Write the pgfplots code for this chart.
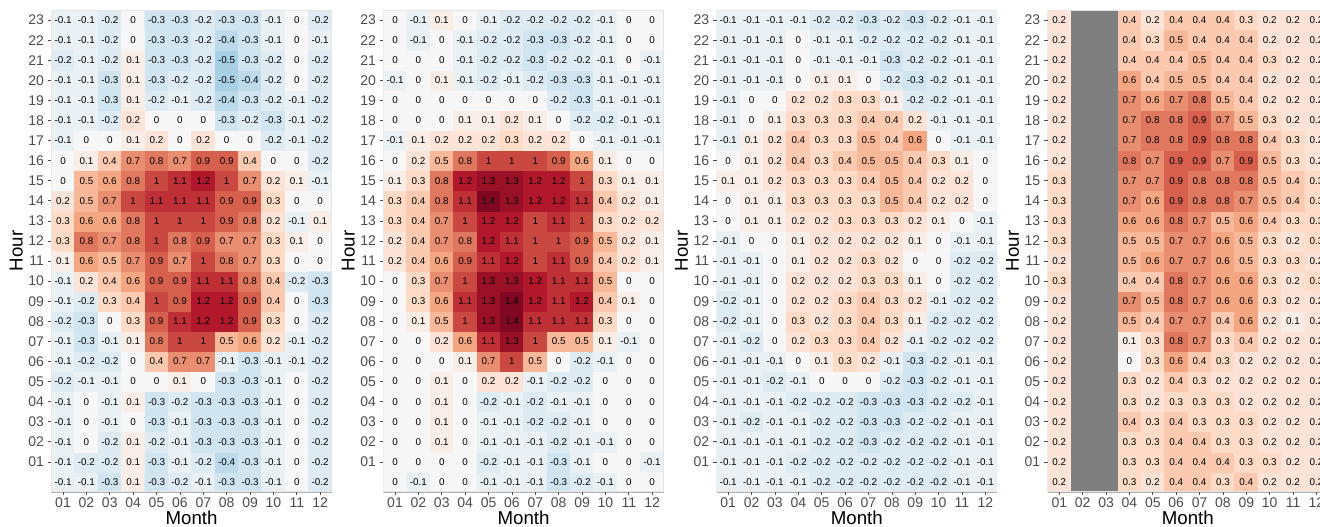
\documentclass[border=0pt]{standalone}
\usepackage{pgfplots}
\pgfplotsset{compat=1.18}
\usepackage{pgfplotstable}
\usepackage{fontspec}
\setmainfont{Liberation Sans}
\definecolor{tickgray}{RGB}{77,77,77}
\definecolor{nagray}{RGB}{127,127,127}
\pgfplotsset{colormap={rdbu}{rgb255=(5,48,97) rgb255=(33,102,172) rgb255=(67,147,195) rgb255=(146,197,222) rgb255=(209,229,240) rgb255=(247,247,247) rgb255=(253,219,199) rgb255=(244,165,130) rgb255=(214,96,77) rgb255=(178,24,43) rgb255=(103,0,31)}}

% rows: hour 00 (first line) ... hour 23 (last line); months 01..12 within a line
\pgfplotstableread[row sep=\\, header=false]{
-0.1\\ -0.1\\ -0.3\\ 0.1\\ -0.3\\ -0.2\\ -0.1\\ -0.3\\ -0.3\\ -0.1\\ 0\\ -0.2\\
-0.1\\ -0.2\\ -0.2\\ 0.1\\ -0.3\\ -0.1\\ -0.2\\ -0.4\\ -0.3\\ -0.1\\ 0\\ -0.2\\
-0.1\\ 0\\ -0.2\\ 0.1\\ -0.2\\ -0.1\\ -0.3\\ -0.3\\ -0.3\\ -0.1\\ 0\\ -0.2\\
-0.1\\ 0\\ -0.1\\ 0\\ -0.3\\ -0.1\\ -0.3\\ -0.3\\ -0.3\\ -0.1\\ 0\\ -0.2\\
-0.1\\ 0\\ -0.1\\ 0.1\\ -0.3\\ -0.2\\ -0.3\\ -0.3\\ -0.3\\ -0.1\\ 0\\ -0.2\\
-0.2\\ -0.1\\ -0.1\\ 0\\ 0\\ 0.1\\ 0\\ -0.3\\ -0.3\\ -0.1\\ 0\\ -0.2\\
-0.1\\ -0.2\\ -0.2\\ 0\\ 0.4\\ 0.7\\ 0.7\\ -0.1\\ -0.3\\ -0.1\\ -0.1\\ -0.2\\
-0.1\\ -0.3\\ -0.1\\ 0.1\\ 0.8\\ 1\\ 1\\ 0.5\\ 0.6\\ 0.2\\ -0.1\\ -0.2\\
-0.2\\ -0.3\\ 0\\ 0.3\\ 0.9\\ 1.1\\ 1.2\\ 1.2\\ 0.9\\ 0.3\\ 0\\ -0.2\\
-0.1\\ -0.2\\ 0.3\\ 0.4\\ 1\\ 0.9\\ 1.2\\ 1.2\\ 0.9\\ 0.4\\ 0\\ -0.3\\
-0.1\\ 0.2\\ 0.4\\ 0.6\\ 0.9\\ 0.9\\ 1.1\\ 1.1\\ 0.8\\ 0.4\\ -0.2\\ -0.3\\
0.1\\ 0.6\\ 0.5\\ 0.7\\ 0.9\\ 0.7\\ 1\\ 0.8\\ 0.7\\ 0.3\\ 0\\ 0\\
0.3\\ 0.8\\ 0.7\\ 0.8\\ 1\\ 0.8\\ 0.9\\ 0.7\\ 0.7\\ 0.3\\ 0.1\\ 0\\
0.3\\ 0.6\\ 0.6\\ 0.8\\ 1\\ 1\\ 1\\ 0.9\\ 0.8\\ 0.2\\ -0.1\\ 0.1\\
0.2\\ 0.5\\ 0.7\\ 1\\ 1.1\\ 1.1\\ 1.1\\ 0.9\\ 0.9\\ 0.3\\ 0\\ 0\\
0\\ 0.5\\ 0.6\\ 0.8\\ 1\\ 1.1\\ 1.2\\ 1\\ 0.7\\ 0.2\\ 0.1\\ -0.1\\
0\\ 0.1\\ 0.4\\ 0.7\\ 0.8\\ 0.7\\ 0.9\\ 0.9\\ 0.4\\ 0\\ 0\\ -0.2\\
-0.1\\ 0\\ 0\\ 0.1\\ 0.2\\ 0\\ 0.2\\ 0\\ 0\\ -0.2\\ -0.1\\ -0.2\\
-0.1\\ -0.1\\ -0.2\\ 0.2\\ 0\\ 0\\ 0\\ -0.3\\ -0.2\\ -0.3\\ -0.1\\ -0.2\\
-0.1\\ -0.1\\ -0.3\\ 0.1\\ -0.2\\ -0.1\\ -0.2\\ -0.4\\ -0.3\\ -0.2\\ -0.1\\ -0.2\\
-0.1\\ -0.1\\ -0.3\\ 0.1\\ -0.3\\ -0.2\\ -0.2\\ -0.5\\ -0.4\\ -0.2\\ 0\\ -0.2\\
-0.2\\ -0.1\\ -0.2\\ 0.1\\ -0.3\\ -0.3\\ -0.2\\ -0.5\\ -0.3\\ -0.2\\ 0\\ -0.2\\
-0.1\\ -0.1\\ -0.2\\ 0\\ -0.3\\ -0.3\\ -0.2\\ -0.4\\ -0.3\\ -0.1\\ 0\\ -0.1\\
-0.1\\ -0.1\\ -0.2\\ 0\\ -0.3\\ -0.3\\ -0.2\\ -0.3\\ -0.3\\ -0.1\\ 0\\ -0.2\\
}\tA

\pgfplotstableread[row sep=\\, header=false]{
0\\ -0.1\\ 0\\ 0\\ -0.1\\ -0.1\\ -0.1\\ -0.3\\ -0.2\\ -0.1\\ 0\\ 0\\
0\\ 0\\ 0\\ 0\\ -0.2\\ -0.1\\ -0.1\\ -0.3\\ -0.1\\ 0\\ 0\\ -0.1\\
0\\ 0\\ 0.1\\ 0\\ -0.1\\ -0.1\\ -0.1\\ -0.2\\ -0.1\\ -0.1\\ 0\\ 0\\
0\\ 0\\ 0.1\\ 0\\ -0.1\\ -0.1\\ -0.2\\ -0.2\\ -0.1\\ 0\\ 0\\ 0\\
0\\ 0\\ 0.1\\ 0\\ -0.2\\ -0.1\\ -0.2\\ -0.1\\ -0.1\\ 0\\ 0\\ 0\\
0\\ 0\\ 0.1\\ 0\\ 0.2\\ 0.2\\ -0.1\\ -0.2\\ -0.2\\ 0\\ 0\\ 0\\
0\\ 0\\ 0\\ 0.1\\ 0.7\\ 1\\ 0.5\\ 0\\ -0.2\\ -0.1\\ 0\\ 0\\
0\\ 0\\ 0.2\\ 0.6\\ 1.1\\ 1.3\\ 1\\ 0.5\\ 0.5\\ 0.1\\ -0.1\\ 0\\
0\\ 0.1\\ 0.5\\ 1\\ 1.3\\ 1.4\\ 1.1\\ 1.1\\ 1.1\\ 0.3\\ 0\\ 0\\
0\\ 0.3\\ 0.6\\ 1.1\\ 1.3\\ 1.4\\ 1.2\\ 1.1\\ 1.2\\ 0.4\\ 0.1\\ 0\\
0\\ 0.3\\ 0.7\\ 1\\ 1.3\\ 1.3\\ 1.2\\ 1.1\\ 1.1\\ 0.5\\ 0\\ 0\\
0.2\\ 0.4\\ 0.6\\ 0.9\\ 1.1\\ 1.2\\ 1\\ 1.1\\ 0.9\\ 0.4\\ 0.2\\ 0.1\\
0.2\\ 0.4\\ 0.7\\ 0.8\\ 1.2\\ 1.1\\ 1\\ 1\\ 0.9\\ 0.5\\ 0.2\\ 0.1\\
0.3\\ 0.4\\ 0.7\\ 1\\ 1.2\\ 1.2\\ 1\\ 1.1\\ 1\\ 0.3\\ 0.2\\ 0.2\\
0.3\\ 0.4\\ 0.8\\ 1.1\\ 1.4\\ 1.3\\ 1.2\\ 1.2\\ 1.1\\ 0.4\\ 0.2\\ 0.1\\
0.1\\ 0.3\\ 0.8\\ 1.2\\ 1.3\\ 1.3\\ 1.2\\ 1.2\\ 1\\ 0.3\\ 0.1\\ 0.1\\
0\\ 0.2\\ 0.5\\ 0.8\\ 1\\ 1\\ 1\\ 0.9\\ 0.6\\ 0.1\\ 0\\ 0\\
-0.1\\ 0.1\\ 0.2\\ 0.2\\ 0.2\\ 0.3\\ 0.2\\ 0.2\\ 0\\ -0.1\\ -0.1\\ -0.1\\
0\\ 0\\ 0\\ 0.1\\ 0.1\\ 0.2\\ 0.1\\ 0\\ -0.2\\ -0.2\\ -0.1\\ -0.1\\
0\\ 0\\ 0\\ 0\\ 0\\ 0\\ 0\\ -0.2\\ -0.3\\ -0.1\\ -0.1\\ -0.1\\
-0.1\\ 0\\ 0.1\\ -0.1\\ -0.2\\ -0.1\\ -0.2\\ -0.3\\ -0.3\\ -0.1\\ -0.1\\ -0.1\\
0\\ 0\\ 0\\ -0.1\\ -0.2\\ -0.2\\ -0.3\\ -0.2\\ -0.2\\ -0.1\\ 0\\ -0.1\\
0\\ -0.1\\ 0\\ -0.1\\ -0.2\\ -0.2\\ -0.3\\ -0.3\\ -0.2\\ -0.1\\ 0\\ 0\\
0\\ -0.1\\ 0.1\\ 0\\ -0.1\\ -0.2\\ -0.2\\ -0.2\\ -0.2\\ -0.1\\ 0\\ 0\\
}\tB

\pgfplotstableread[row sep=\\, header=false]{
-0.1\\ -0.1\\ -0.1\\ -0.1\\ -0.2\\ -0.2\\ -0.2\\ -0.2\\ -0.2\\ -0.2\\ -0.1\\ -0.1\\
-0.1\\ -0.1\\ -0.1\\ -0.2\\ -0.2\\ -0.2\\ -0.2\\ -0.2\\ -0.2\\ -0.2\\ -0.1\\ -0.1\\
-0.1\\ -0.1\\ -0.1\\ -0.1\\ -0.2\\ -0.2\\ -0.3\\ -0.2\\ -0.2\\ -0.2\\ -0.1\\ -0.1\\
-0.1\\ -0.2\\ -0.1\\ -0.1\\ -0.2\\ -0.2\\ -0.3\\ -0.3\\ -0.2\\ -0.2\\ -0.1\\ -0.1\\
-0.1\\ -0.1\\ -0.1\\ -0.2\\ -0.2\\ -0.2\\ -0.3\\ -0.3\\ -0.3\\ -0.2\\ -0.2\\ -0.1\\
-0.1\\ -0.1\\ -0.2\\ -0.1\\ 0\\ 0\\ 0\\ -0.2\\ -0.3\\ -0.2\\ -0.1\\ -0.1\\
-0.1\\ -0.1\\ -0.1\\ 0\\ 0.1\\ 0.3\\ 0.2\\ -0.1\\ -0.3\\ -0.2\\ -0.1\\ -0.1\\
-0.1\\ -0.2\\ 0\\ 0.2\\ 0.3\\ 0.3\\ 0.4\\ 0.2\\ -0.1\\ -0.2\\ -0.2\\ -0.2\\
-0.2\\ -0.1\\ 0\\ 0.3\\ 0.2\\ 0.3\\ 0.4\\ 0.3\\ 0.1\\ -0.2\\ -0.2\\ -0.2\\
-0.2\\ -0.1\\ 0\\ 0.2\\ 0.2\\ 0.3\\ 0.4\\ 0.3\\ 0.2\\ -0.1\\ -0.2\\ -0.2\\
-0.1\\ -0.1\\ 0\\ 0.2\\ 0.2\\ 0.2\\ 0.3\\ 0.3\\ 0.1\\ 0\\ -0.2\\ -0.2\\
-0.1\\ -0.1\\ 0\\ 0.1\\ 0.2\\ 0.2\\ 0.3\\ 0.2\\ 0\\ 0\\ -0.2\\ -0.2\\
-0.1\\ 0\\ 0\\ 0.1\\ 0.2\\ 0.2\\ 0.2\\ 0.2\\ 0.1\\ 0\\ -0.1\\ -0.1\\
0\\ 0.1\\ 0.1\\ 0.2\\ 0.2\\ 0.3\\ 0.3\\ 0.3\\ 0.2\\ 0.1\\ 0\\ -0.1\\
0\\ 0.1\\ 0.1\\ 0.3\\ 0.3\\ 0.3\\ 0.3\\ 0.5\\ 0.4\\ 0.2\\ 0.2\\ 0\\
0.1\\ 0.1\\ 0.2\\ 0.3\\ 0.3\\ 0.3\\ 0.4\\ 0.5\\ 0.4\\ 0.2\\ 0.2\\ 0\\
0\\ 0.1\\ 0.2\\ 0.4\\ 0.3\\ 0.4\\ 0.5\\ 0.5\\ 0.4\\ 0.3\\ 0.1\\ 0\\
-0.1\\ 0.1\\ 0.2\\ 0.4\\ 0.3\\ 0.3\\ 0.5\\ 0.4\\ 0.6\\ 0\\ -0.1\\ -0.1\\
-0.1\\ 0\\ 0.1\\ 0.3\\ 0.3\\ 0.3\\ 0.4\\ 0.4\\ 0.2\\ -0.1\\ -0.1\\ -0.1\\
-0.1\\ 0\\ 0\\ 0.2\\ 0.2\\ 0.3\\ 0.3\\ 0.1\\ -0.2\\ -0.2\\ -0.1\\ -0.1\\
-0.1\\ -0.1\\ -0.1\\ 0\\ 0.1\\ 0.1\\ 0\\ -0.2\\ -0.3\\ -0.2\\ -0.1\\ -0.1\\
-0.1\\ -0.1\\ -0.1\\ 0\\ -0.1\\ -0.1\\ -0.1\\ -0.3\\ -0.2\\ -0.2\\ -0.1\\ -0.1\\
-0.1\\ -0.1\\ -0.1\\ 0\\ -0.1\\ -0.1\\ -0.2\\ -0.2\\ -0.2\\ -0.2\\ -0.1\\ -0.1\\
-0.1\\ -0.1\\ -0.1\\ -0.1\\ -0.2\\ -0.2\\ -0.3\\ -0.2\\ -0.3\\ -0.2\\ -0.1\\ -0.1\\
}\tC

% months 02 and 03 have no data (drawn grey); 0 is a placeholder there
\pgfplotstableread[row sep=\\, header=false]{
0.2\\ 0\\ 0\\ 0.3\\ 0.2\\ 0.4\\ 0.4\\ 0.3\\ 0.4\\ 0.2\\ 0.2\\ 0.2\\
0.2\\ 0\\ 0\\ 0.3\\ 0.3\\ 0.4\\ 0.4\\ 0.4\\ 0.3\\ 0.3\\ 0.2\\ 0.2\\
0.2\\ 0\\ 0\\ 0.3\\ 0.3\\ 0.4\\ 0.4\\ 0.3\\ 0.3\\ 0.2\\ 0.2\\ 0.2\\
0.2\\ 0\\ 0\\ 0.4\\ 0.3\\ 0.4\\ 0.3\\ 0.3\\ 0.3\\ 0.2\\ 0.2\\ 0.2\\
0.2\\ 0\\ 0\\ 0.3\\ 0.2\\ 0.3\\ 0.3\\ 0.3\\ 0.2\\ 0.2\\ 0.2\\ 0.2\\
0.2\\ 0\\ 0\\ 0.3\\ 0.2\\ 0.4\\ 0.3\\ 0.2\\ 0.2\\ 0.2\\ 0.2\\ 0.2\\
0.2\\ 0\\ 0\\ 0\\ 0.3\\ 0.6\\ 0.4\\ 0.3\\ 0.2\\ 0.2\\ 0.2\\ 0.2\\
0.2\\ 0\\ 0\\ 0.1\\ 0.3\\ 0.8\\ 0.7\\ 0.3\\ 0.4\\ 0.2\\ 0.2\\ 0.2\\
0.2\\ 0\\ 0\\ 0.5\\ 0.4\\ 0.7\\ 0.7\\ 0.4\\ 0.6\\ 0.2\\ 0.1\\ 0.2\\
0.2\\ 0\\ 0\\ 0.7\\ 0.5\\ 0.8\\ 0.7\\ 0.6\\ 0.6\\ 0.3\\ 0.2\\ 0.2\\
0.3\\ 0\\ 0\\ 0.4\\ 0.4\\ 0.8\\ 0.7\\ 0.6\\ 0.6\\ 0.3\\ 0.2\\ 0.3\\
0.2\\ 0\\ 0\\ 0.5\\ 0.6\\ 0.7\\ 0.7\\ 0.6\\ 0.5\\ 0.3\\ 0.3\\ 0.2\\
0.3\\ 0\\ 0\\ 0.5\\ 0.5\\ 0.7\\ 0.7\\ 0.6\\ 0.5\\ 0.3\\ 0.2\\ 0.3\\
0.3\\ 0\\ 0\\ 0.6\\ 0.6\\ 0.8\\ 0.7\\ 0.5\\ 0.6\\ 0.4\\ 0.3\\ 0.3\\
0.3\\ 0\\ 0\\ 0.7\\ 0.6\\ 0.9\\ 0.8\\ 0.8\\ 0.7\\ 0.5\\ 0.4\\ 0.3\\
0.3\\ 0\\ 0\\ 0.7\\ 0.7\\ 0.9\\ 0.8\\ 0.8\\ 0.8\\ 0.5\\ 0.4\\ 0.3\\
0.2\\ 0\\ 0\\ 0.8\\ 0.7\\ 0.9\\ 0.9\\ 0.7\\ 0.9\\ 0.5\\ 0.3\\ 0.2\\
0.2\\ 0\\ 0\\ 0.7\\ 0.8\\ 0.8\\ 0.9\\ 0.8\\ 0.8\\ 0.4\\ 0.3\\ 0.2\\
0.2\\ 0\\ 0\\ 0.7\\ 0.8\\ 0.8\\ 0.9\\ 0.7\\ 0.5\\ 0.3\\ 0.2\\ 0.2\\
0.2\\ 0\\ 0\\ 0.7\\ 0.6\\ 0.7\\ 0.8\\ 0.5\\ 0.4\\ 0.2\\ 0.2\\ 0.2\\
0.2\\ 0\\ 0\\ 0.6\\ 0.4\\ 0.5\\ 0.5\\ 0.4\\ 0.4\\ 0.2\\ 0.2\\ 0.2\\
0.2\\ 0\\ 0\\ 0.4\\ 0.4\\ 0.4\\ 0.5\\ 0.4\\ 0.4\\ 0.3\\ 0.2\\ 0.2\\
0.2\\ 0\\ 0\\ 0.4\\ 0.3\\ 0.5\\ 0.4\\ 0.4\\ 0.4\\ 0.2\\ 0.2\\ 0.2\\
0.2\\ 0\\ 0\\ 0.4\\ 0.2\\ 0.4\\ 0.4\\ 0.4\\ 0.3\\ 0.2\\ 0.2\\ 0.2\\
}\tD

% hour (column hy) and month (column mx) of each row, computed exactly
\newcommand{\addmh}[1]{%
  \pgfplotstablecreatecol[create col/expr={int(floor((\pgfplotstablerow+0.5)/12))}]{hy}#1%
  \pgfplotstablecreatecol[create col/expr={int(\pgfplotstablerow-12*\thisrow{hy}+1)}]{mx}#1}
\addmh\tA \addmh\tB \addmh\tC \addmh\tD

\pgfplotsset{
  hm/.style={
    scale only axis, width=210.4pt, height=361.5pt, anchor=south west,
    xmin=0.5, xmax=12.5, ymin=-0.5, ymax=23.5,
    xtick={1,...,12}, xticklabels={01,02,03,04,05,06,07,08,09,10,11,12},
    ytick={1,...,23}, yticklabels={01,02,03,04,05,06,07,08,09,10,11,12,13,14,15,16,17,18,19,20,21,22,23},
    xtick pos=left, ytick pos=left,
    tick align=outside, major tick length=2.5pt,
    tick style={draw=tickgray, line width=0.5pt},
    ticklabel style={font=\fontsize{10.5}{12}\selectfont, text=tickgray},
    xticklabel style={yshift=1.5pt},
    yticklabel style={xshift=0.5pt},
    axis on top, axis line style={draw=none},
    colormap name=rdbu, point meta min=-1.5, point meta max=1.5,
    xlabel=Month, ylabel=Hour,
    label style={font=\fontsize{14}{16}\selectfont},
    xlabel style={at={(axis description cs:0.5,-0.054)}, anchor=center},
    ylabel style={at={(axis description cs:-0.125,0.5)}, anchor=center},
  },
  cells/.style={matrix plot*, mesh/cols=12, point meta=explicit},
  vals/.style={only marks, mark=none, point meta=explicit,
    nodes near coords={\pgfmathprintnumber[fixed, precision=1, assume math mode=true]{\pgfplotspointmeta}},
    nodes near coords align=center,
    every node near coord/.append style={font=\fontsize{7.4}{8}\selectfont, text=black, anchor=center, inner sep=0pt}},
}
\pgfkeys{/pgfplots/table/mh/.style={/pgfplots/table/x=mx, /pgfplots/table/y=hy, /pgfplots/table/meta index=0}}

\newcommand{\frameit}{%
  \draw[gray!20, line width=0.8pt] (rel axis cs:0,0) rectangle (rel axis cs:1,1);
  \draw[gray!60, line width=0.7pt] (rel axis cs:0,0) -- (rel axis cs:1,0);}

\begin{document}
\begin{tikzpicture}
\begin{axis}[hm, at={(38.5pt,25.5pt)}]
\addplot[cells] table[mh] {\tA};
\addplot[vals] table[mh] {\tA};
\frameit
\end{axis}
\begin{axis}[hm, at={(287.5pt,25.5pt)}]
\addplot[cells] table[mh] {\tB};
\addplot[vals] table[mh] {\tB};
\frameit
\end{axis}
\begin{axis}[hm, at={(537.4pt,25.5pt)}]
\addplot[cells] table[mh] {\tC};
\addplot[vals] table[mh] {\tC};
\frameit
\end{axis}
\begin{axis}[hm, at={(785.7pt,25.5pt)}]
\addplot[cells] table[mh] {\tD};
\addplot[vals, x filter/.expression={(x>1.5 && x<3.5) ? nan : x}] table[mh] {\tD};
% months 02-03: no data
\fill[nagray] (axis cs:1.5,-0.5) rectangle (axis cs:3.5,23.5);
\frameit
\end{axis}
\pgfresetboundingbox
\useasboundingbox (0,0) rectangle (990pt,394.5pt);
\end{tikzpicture}
\end{document}
